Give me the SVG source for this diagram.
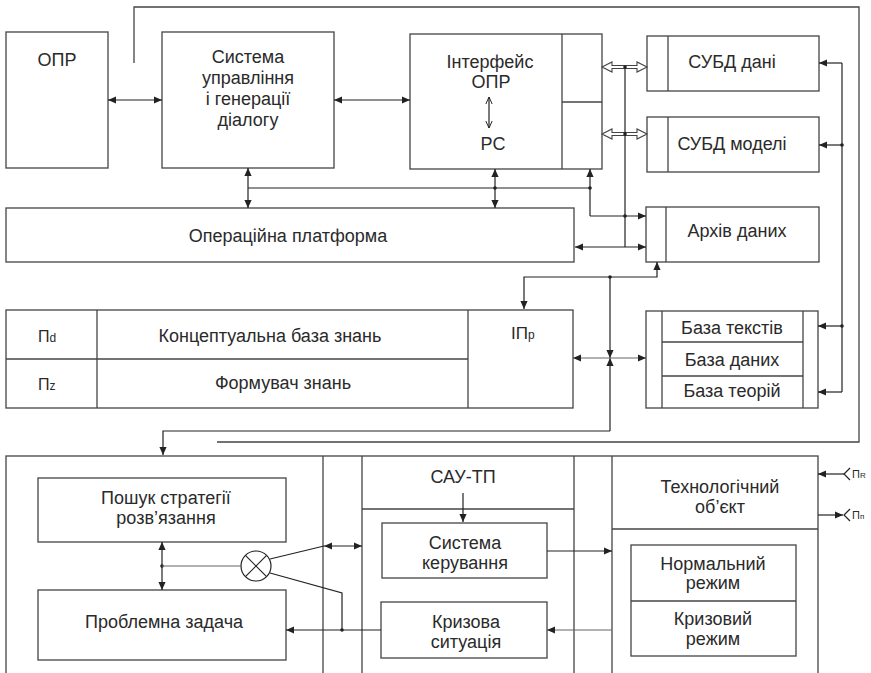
<svg xmlns="http://www.w3.org/2000/svg" width="871" height="673" viewBox="0 0 871 673">
<defs>
<style>
.b{fill:#fff;stroke:#444;stroke-width:1.3}
.d{fill:none;stroke:#444;stroke-width:1.3}
.c{fill:none;stroke:#222;stroke-width:1.2}
.g{fill:none;stroke:#666;stroke-width:1.2}
.t{font-family:"Liberation Sans",Arial,sans-serif;font-size:18px;fill:#2a2a2a;text-anchor:middle}
.s{font-family:"Liberation Sans",Arial,sans-serif;fill:#2a2a2a}
.dot{fill:#222}
</style>
<marker id="ah" viewBox="0 0 10 10" refX="10" refY="5" markerWidth="10" markerHeight="8" markerUnits="userSpaceOnUse" orient="auto-start-reverse"><path d="M0,0.5 L10,5 L0,9.5 z" fill="#222"/></marker>
<marker id="oh" viewBox="0 0 10 10" refX="10" refY="5" markerWidth="7" markerHeight="8" markerUnits="userSpaceOnUse" orient="auto-start-reverse"><path d="M0,0.5 L10,5 L0,9.5" fill="none" stroke="#222" stroke-width="1.4"/></marker>
</defs>
<rect width="871" height="673" fill="#fff"/>

<g id="opr">
<rect class="b" x="6" y="32" width="102" height="136"/>
<text class="t" x="57" y="66">ОПР</text>
</g>
<g id="dialog">
<rect class="b" x="162" y="32" width="172" height="136"/>
<text class="t" x="248" y="63">Система</text>
<text class="t" x="248" y="84">управління</text>
<text class="t" x="248" y="105">і генерації</text>
<text class="t" x="248" y="126">діалогу</text>
</g>
<g id="interface">
<rect class="b" x="410" y="34" width="192" height="135"/>
<line class="d" x1="562" y1="34" x2="562" y2="169"/>
<line class="d" x1="562" y1="102" x2="602" y2="102"/>
<text class="t" x="490" y="68">Інтерфейс</text>
<text class="t" x="491" y="88">ОПР</text>
<line class="c" x1="489" y1="97" x2="489" y2="128" marker-start="url(#oh)" marker-end="url(#oh)"/>
<text class="t" x="493" y="150">РС</text>
</g>
<g id="dbms-data">
<rect class="b" x="647" y="36" width="172" height="55"/>
<line class="d" x1="668" y1="36" x2="668" y2="91"/>
<text class="t" x="732" y="68">СУБД дані</text>
</g>
<g id="dbms-models">
<rect class="b" x="647" y="117" width="172" height="55"/>
<line class="d" x1="668" y1="117" x2="668" y2="172"/>
<text class="t" x="732" y="150">СУБД моделі</text>
</g>
<g id="os">
<rect class="b" x="6" y="208" width="568" height="54"/>
<text class="t" x="288" y="242">Операційна платформа</text>
</g>
<g id="archive">
<rect class="b" x="646" y="207" width="173" height="55"/>
<line class="d" x1="666" y1="207" x2="666" y2="262"/>
<text class="t" x="737" y="237">Архів даних</text>
</g>
<g id="knowledge">
<rect class="b" x="6" y="310" width="567" height="98"/>
<line class="d" x1="97" y1="310" x2="97" y2="408"/>
<line class="d" x1="6" y1="359" x2="468" y2="359"/>
<line class="d" x1="468" y1="310" x2="468" y2="408"/>
<text class="s" x="38" y="342" font-size="16">П<tspan font-size="12">d</tspan></text>
<text class="s" x="38" y="390" font-size="16">П<tspan font-size="12">z</tspan></text>
<text class="t" x="270" y="342">Концептуальна база знань</text>
<text class="t" x="283" y="389">Формувач знань</text>
<text class="s" x="511" y="339" font-size="17">ІП<tspan font-size="12">p</tspan></text>
</g>
<g id="bases">
<rect class="b" x="646" y="311" width="172" height="97"/>
<line class="d" x1="662" y1="311" x2="662" y2="408"/>
<line class="d" x1="803" y1="311" x2="803" y2="408"/>
<line class="d" x1="662" y1="342" x2="803" y2="342"/>
<line class="d" x1="662" y1="376" x2="803" y2="376"/>
<text class="t" x="732" y="334">База текстів</text>
<text class="t" x="732" y="366">База даних</text>
<text class="t" x="732" y="397">База теорій</text>
</g>
<g id="control-frame">
<rect class="b" x="6" y="456" width="812" height="230"/>
<line class="d" x1="323" y1="456" x2="323" y2="673"/>
<line class="d" x1="362" y1="456" x2="362" y2="673"/>
<line class="d" x1="574" y1="456" x2="574" y2="673"/>
<line class="d" x1="612" y1="456" x2="612" y2="673"/>
<line class="d" x1="362" y1="509" x2="574" y2="509"/>
<line class="d" x1="612" y1="529" x2="818" y2="529"/>
<text class="t" x="463" y="483">САУ-ТП</text>
<text class="t" x="720" y="493">Технологічний</text>
<text class="t" x="720" y="513">об’єкт</text>
</g>
<g id="strategy">
<rect class="b" x="38" y="478" width="248" height="64"/>
<text class="t" x="166" y="504">Пошук стратегії</text>
<text class="t" x="166" y="524">розв’язання</text>
</g>
<g id="problem">
<rect class="b" x="38" y="590" width="248" height="70"/>
<text class="t" x="164" y="628">Проблемна задача</text>
</g>
<g id="control-system">
<rect class="b" x="382" y="523" width="165" height="55"/>
<text class="t" x="465" y="549">Система</text>
<text class="t" x="465" y="569">керування</text>
</g>
<g id="crisis">
<rect class="b" x="381" y="602" width="166" height="56"/>
<text class="t" x="466" y="628">Кризова</text>
<text class="t" x="466" y="648">ситуація</text>
</g>
<g id="modes">
<rect class="b" x="631" y="545" width="165" height="111"/>
<line class="d" x1="631" y1="601" x2="796" y2="601"/>
<text class="t" x="713" y="570">Нормальний</text>
<text class="t" x="713" y="589">режим</text>
<text class="t" x="713" y="625">Кризовий</text>
<text class="t" x="713" y="645">режим</text>
</g>
<g id="mixer">
<circle cx="256" cy="566" r="15" fill="#fff" stroke="#222" stroke-width="1.2"/>
<line class="c" x1="245.4" y1="555.4" x2="266.6" y2="576.6"/>
<line class="c" x1="245.4" y1="576.6" x2="266.6" y2="555.4"/>
</g>

<g id="connectors">
<line class="c" x1="108" y1="100" x2="162" y2="100" marker-start="url(#ah)" marker-end="url(#ah)"/>
<line class="c" x1="334" y1="100" x2="410" y2="100" marker-start="url(#ah)" marker-end="url(#ah)"/>
<polyline class="d" points="134,63 134,7 859,7 859,442 217,442"/>
<line class="c" x1="248" y1="188" x2="590" y2="188"/>
<line class="c" x1="248" y1="168" x2="248" y2="208" marker-start="url(#ah)" marker-end="url(#ah)"/>
<line class="c" x1="495" y1="169" x2="495" y2="208" marker-start="url(#ah)" marker-end="url(#ah)"/>
<circle class="dot" cx="495" cy="188" r="1.8"/>
<path class="c" d="M590,216 L590,169" marker-end="url(#ah)"/>
<path class="c" d="M590,216 L646,216" marker-end="url(#ah)"/>
<circle class="dot" cx="590" cy="188" r="1.8"/>
<polygon points="602,67 612,62 612,65.5 637,65.5 637,62 647,67 637,72 637,68.5 612,68.5 612,72" fill="#fff" stroke="#444" stroke-width="1.1"/>
<polygon points="602,134 612,129 612,132.5 637,132.5 637,129 647,134 637,139 637,135.5 612,135.5 612,139" fill="#fff" stroke="#444" stroke-width="1.1"/>
<line class="c" x1="625" y1="67" x2="625" y2="247"/>
<circle class="dot" cx="625" cy="67" r="1.8"/>
<circle class="dot" cx="625" cy="134" r="1.8"/>
<circle class="dot" cx="625" cy="216" r="1.8"/>
<line class="c" x1="575" y1="247" x2="646" y2="247" marker-start="url(#ah)" marker-end="url(#ah)"/>
<line class="c" x1="842" y1="63" x2="842" y2="392"/>
<line class="c" x1="842" y1="63" x2="819" y2="63" marker-end="url(#ah)"/>
<line class="c" x1="842" y1="145" x2="819" y2="145" marker-end="url(#ah)"/>
<line class="c" x1="842" y1="326" x2="818" y2="326" marker-end="url(#ah)"/>
<line class="c" x1="842" y1="392" x2="818" y2="392" marker-end="url(#ah)"/>
<circle class="dot" cx="842" cy="145" r="1.8"/>
<circle class="dot" cx="842" cy="326" r="1.8"/>
<path class="c" d="M610,277 L657,277 L657,262" marker-end="url(#ah)"/>
<path class="c" d="M610,277 L524,277 L524,309" marker-end="url(#ah)"/>
<circle class="dot" cx="610" cy="277" r="1.8"/>
<path class="c" d="M610,277 L610,358" marker-end="url(#ah)"/>
<path class="c" d="M610,431 L610,358" marker-end="url(#ah)"/>
<path class="c" d="M610,431 L163,431 L163,455" marker-end="url(#ah)"/>
<line class="g" x1="573" y1="358" x2="646" y2="358" marker-start="url(#ah)" marker-end="url(#ah)"/>
<line class="c" x1="463" y1="493" x2="463" y2="522" marker-end="url(#ah)"/>
<line class="c" x1="547" y1="551" x2="612" y2="551" marker-end="url(#ah)"/>
<line class="g" x1="612" y1="630" x2="547" y2="630" marker-end="url(#ah)"/>
<line class="c" x1="844" y1="474" x2="818" y2="474" marker-end="url(#ah)"/>
<polyline class="c" points="850,468 844,474 850,480"/>
<text class="s" x="852" y="478" font-size="11">П<tspan font-size="8">R</tspan></text>
<line class="c" x1="818" y1="515" x2="843" y2="515" marker-end="url(#ah)"/>
<polyline class="c" points="850,509 844,515 850,521"/>
<text class="s" x="852" y="519" font-size="11">П<tspan font-size="8">п</tspan></text>
<line class="c" x1="162" y1="542" x2="162" y2="590" marker-start="url(#ah)" marker-end="url(#ah)"/>
<circle class="dot" cx="162" cy="566" r="1.8"/>
<line class="g" x1="162" y1="566" x2="241" y2="566"/>
<line class="c" x1="270" y1="559" x2="324" y2="546"/>
<line class="c" x1="324" y1="546" x2="362" y2="546" marker-start="url(#ah)" marker-end="url(#ah)"/>
<polyline class="c" points="270,573 342,593 342,630"/>
<circle class="dot" cx="342" cy="630" r="1.8"/>
<line class="c" x1="381" y1="630" x2="286" y2="630" marker-end="url(#ah)"/>
</g>
</svg>
